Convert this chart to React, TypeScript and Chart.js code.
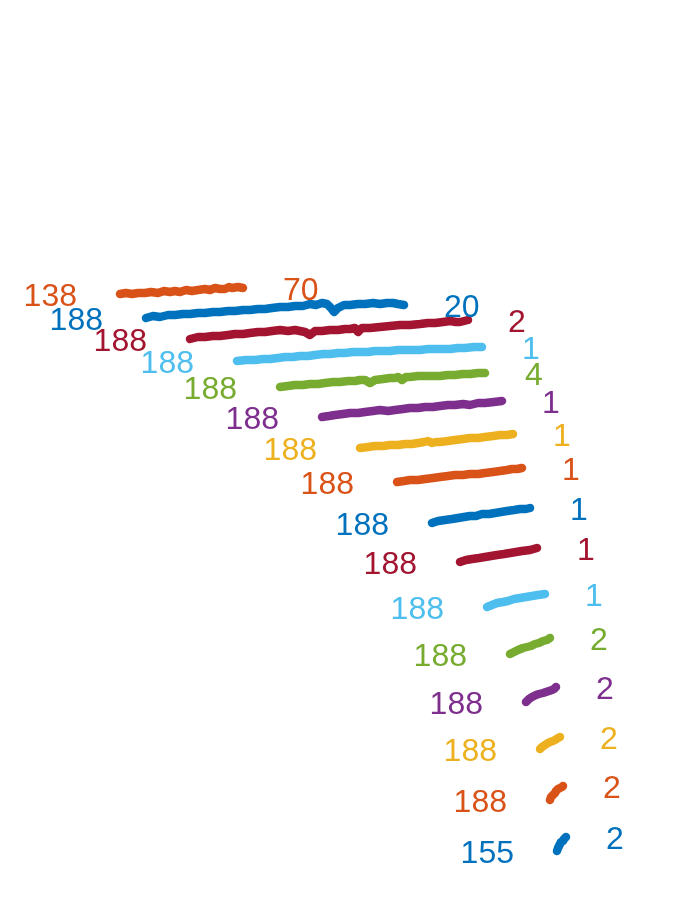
import React, { useEffect, useRef } from "react";
import { Chart, registerables } from "chart.js";

Chart.register(...registerables);

const COLORS = ["#D95319", "#0072BD", "#A2142F", "#4DBEEE", "#77AC30", "#7E2F8E", "#EDB120"];

const startLabels = ["138", "188", "188", "188", "188", "188", "188", "188", "188", "188", "188", "188", "188", "188", "188", "155"];
const endLabels = ["70", "20", "2", "1", "4", "1", "1", "1", "1", "1", "1", "2", "2", "2", "2", "2"];

const s1x = [120, 126, 132, 138, 145, 151, 158, 164, 170, 175, 180, 186, 192, 198, 205, 210, 215, 220, 225, 229, 232, 238, 243];
const s1y = [294, 293, 294, 293, 293, 292, 293, 291, 292, 291, 292, 290, 291, 290, 289, 290, 288, 289, 289, 287, 288, 287, 288];
const s2x = [146, 153, 160, 168, 175, 183, 190, 198, 205, 213, 220, 228, 235, 243, 250, 258, 265, 272, 280, 288, 295, 303, 310, 316, 322, 327, 331, 334, 338, 344, 350, 358, 365, 373, 380, 387, 393, 398, 404];
const s2y = [318, 316, 317, 315, 315, 314, 314, 313, 313, 312, 312, 311, 311, 310, 310, 309, 309, 308, 307, 307, 306, 306, 304, 305, 303, 304, 308, 312, 308, 305, 305, 304, 304, 303, 304, 303, 303, 304, 305];
const s3x = [190, 198, 205, 213, 220, 228, 235, 243, 250, 258, 265, 272, 280, 288, 295, 300, 305, 310, 315, 322, 330, 338, 345, 350, 355, 358, 362, 370, 380, 390, 400, 410, 420, 428, 435, 443, 450, 456, 460, 464, 468];
const s3y = [339, 337, 337, 336, 336, 335, 334, 334, 333, 332, 332, 331, 330, 331, 330, 331, 332, 335, 331, 331, 330, 330, 329, 329, 328, 332, 328, 328, 327, 326, 325, 325, 324, 323, 323, 322, 321, 322, 322, 321, 320];
const s4x = [237, 246, 255, 263, 270, 278, 285, 293, 300, 308, 315, 323, 330, 338, 345, 353, 360, 368, 375, 383, 390, 398, 405, 413, 420, 428, 435, 443, 450, 458, 465, 474, 482];
const s4y = [361, 360, 360, 359, 359, 358, 357, 357, 356, 356, 355, 354, 354, 353, 353, 352, 352, 352, 351, 351, 351, 350, 350, 350, 350, 349, 349, 349, 349, 348, 348, 347, 347];
const s5x = [280, 288, 295, 303, 310, 318, 325, 333, 340, 348, 355, 360, 365, 370, 375, 383, 390, 395, 398, 402, 406, 410, 418, 425, 433, 440, 448, 455, 463, 470, 478, 485];
const s5y = [387, 386, 385, 385, 384, 384, 383, 382, 382, 381, 381, 380, 380, 383, 380, 379, 378, 378, 377, 380, 377, 377, 376, 376, 376, 376, 375, 375, 374, 374, 373, 373];
const s6x = [322, 329, 335, 343, 350, 358, 365, 373, 380, 388, 395, 403, 410, 418, 425, 433, 440, 448, 455, 463, 470, 478, 485, 494, 502];
const s6y = [417, 416, 415, 414, 413, 413, 412, 411, 410, 411, 410, 409, 408, 408, 407, 407, 406, 405, 405, 404, 405, 403, 403, 402, 401];
const s7x = [360, 368, 375, 383, 390, 398, 405, 412, 418, 424, 428, 432, 436, 440, 448, 455, 463, 470, 478, 485, 493, 500, 507, 513];
const s7y = [448, 447, 446, 446, 445, 445, 444, 444, 443, 442, 441, 443, 442, 442, 441, 440, 439, 438, 438, 437, 436, 435, 435, 434];
const s8x = [397, 404, 410, 418, 425, 433, 440, 448, 455, 463, 470, 478, 485, 493, 500, 507, 512, 517, 522];
const s8y = [482, 481, 480, 480, 479, 478, 477, 476, 475, 475, 474, 474, 473, 472, 471, 470, 469, 469, 468];
const s9x = [432, 438, 445, 452, 458, 464, 470, 476, 482, 489, 495, 501, 507, 514, 520, 526, 530];
const s9y = [523, 521, 520, 519, 518, 517, 516, 516, 514, 514, 513, 512, 511, 510, 509, 509, 508];
const s10x = [460, 466, 472, 479, 485, 491, 497, 504, 510, 516, 522, 530, 537];
const s10y = [562, 560, 559, 558, 557, 556, 555, 554, 553, 552, 551, 550, 548];
const s11x = [487, 492, 497, 503, 508, 514, 520, 526, 532, 538, 545];
const s11y = [607, 605, 603, 602, 601, 599, 598, 597, 596, 595, 594];
const s12x = [510, 514, 518, 523, 527, 531, 535, 539, 543, 547, 550];
const s12y = [654, 652, 650, 648, 647, 646, 644, 643, 641, 640, 638];
const s13x = [526, 529, 532, 536, 539, 543, 546, 549, 552, 554, 556];
const s13y = [702, 699, 697, 695, 694, 693, 692, 691, 690, 689, 687];
const s14x = [540, 542, 545, 548, 550, 553, 555, 558, 560];
const s14y = [749, 747, 745, 743, 742, 741, 740, 738, 737];
const s15x = [550, 551, 553, 555, 556, 558, 560, 562, 563];
const s15y = [800, 797, 795, 793, 791, 789, 788, 787, 786];
const s16x = [557, 558, 559, 560, 561, 563, 564, 565, 566];
const s16y = [851, 848, 846, 844, 842, 841, 839, 838, 837];

const seriesX = [s1x, s2x, s3x, s4x, s5x, s6x, s7x, s8x, s9x, s10x, s11x, s12x, s13x, s14x, s15x, s16x];
const seriesY = [s1y, s2y, s3y, s4y, s5y, s6y, s7y, s8y, s9y, s10y, s11y, s12y, s13y, s14y, s15y, s16y];

const FONT = "32px 'Liberation Sans', Arial, sans-serif";

const labelPlugin = {
  id: "endLabels",
  afterDatasetsDraw(chart: any) {
    const ctx = chart.ctx;
    const xs = chart.scales.x;
    const ys = chart.scales.y;
    ctx.save();
    ctx.font = FONT;
    ctx.textBaseline = "middle";
    chart.data.datasets.forEach((ds: any, i: number) => {
      const pts = ds.data;
      const first = pts[0];
      const last = pts[pts.length - 1];
      ctx.fillStyle = ds.borderColor;
      ctx.textAlign = "right";
      ctx.fillText(startLabels[i], xs.getPixelForValue(first.x) - 43, ys.getPixelForValue(first.y) + 3);
      ctx.textAlign = "left";
      ctx.fillText(endLabels[i], xs.getPixelForValue(last.x) + 40, ys.getPixelForValue(last.y) + 3);
    });
    ctx.restore();
  },
};

export default function App() {
  const ref = useRef<HTMLCanvasElement>(null);
  useEffect(() => {
    if (!ref.current) return;
    const datasets = seriesX.map((xs, i) => ({
      data: xs.map((x, j) => ({ x, y: seriesY[i][j] })),
      borderColor: COLORS[i % COLORS.length],
      backgroundColor: COLORS[i % COLORS.length],
      borderWidth: 8.5,
      borderCapStyle: "round" as const,
      borderJoinStyle: "round" as const,
      pointRadius: 0,
      tension: 0,
      fill: false,
    }));
    const chart = new Chart(ref.current, {
      type: "line",
      data: { datasets },
      options: {
        animation: false,
        responsive: false,
        maintainAspectRatio: false,
        layout: { padding: 0 },
        plugins: { legend: { display: false }, tooltip: { enabled: false } },
        scales: {
          x: { type: "linear", min: 0, max: 688, display: false },
          y: { type: "linear", min: 0, max: 900, reverse: true, display: false },
        },
      },
      plugins: [labelPlugin],
    });
    return () => chart.destroy();
  }, []);
  return (
    <div style={{ position: "fixed", left: 0, top: 0, width: 688, height: 900, background: "#fff" }}>
      <canvas ref={ref} width={688} height={900} style={{ width: 688, height: 900 }} />
    </div>
  );
}
